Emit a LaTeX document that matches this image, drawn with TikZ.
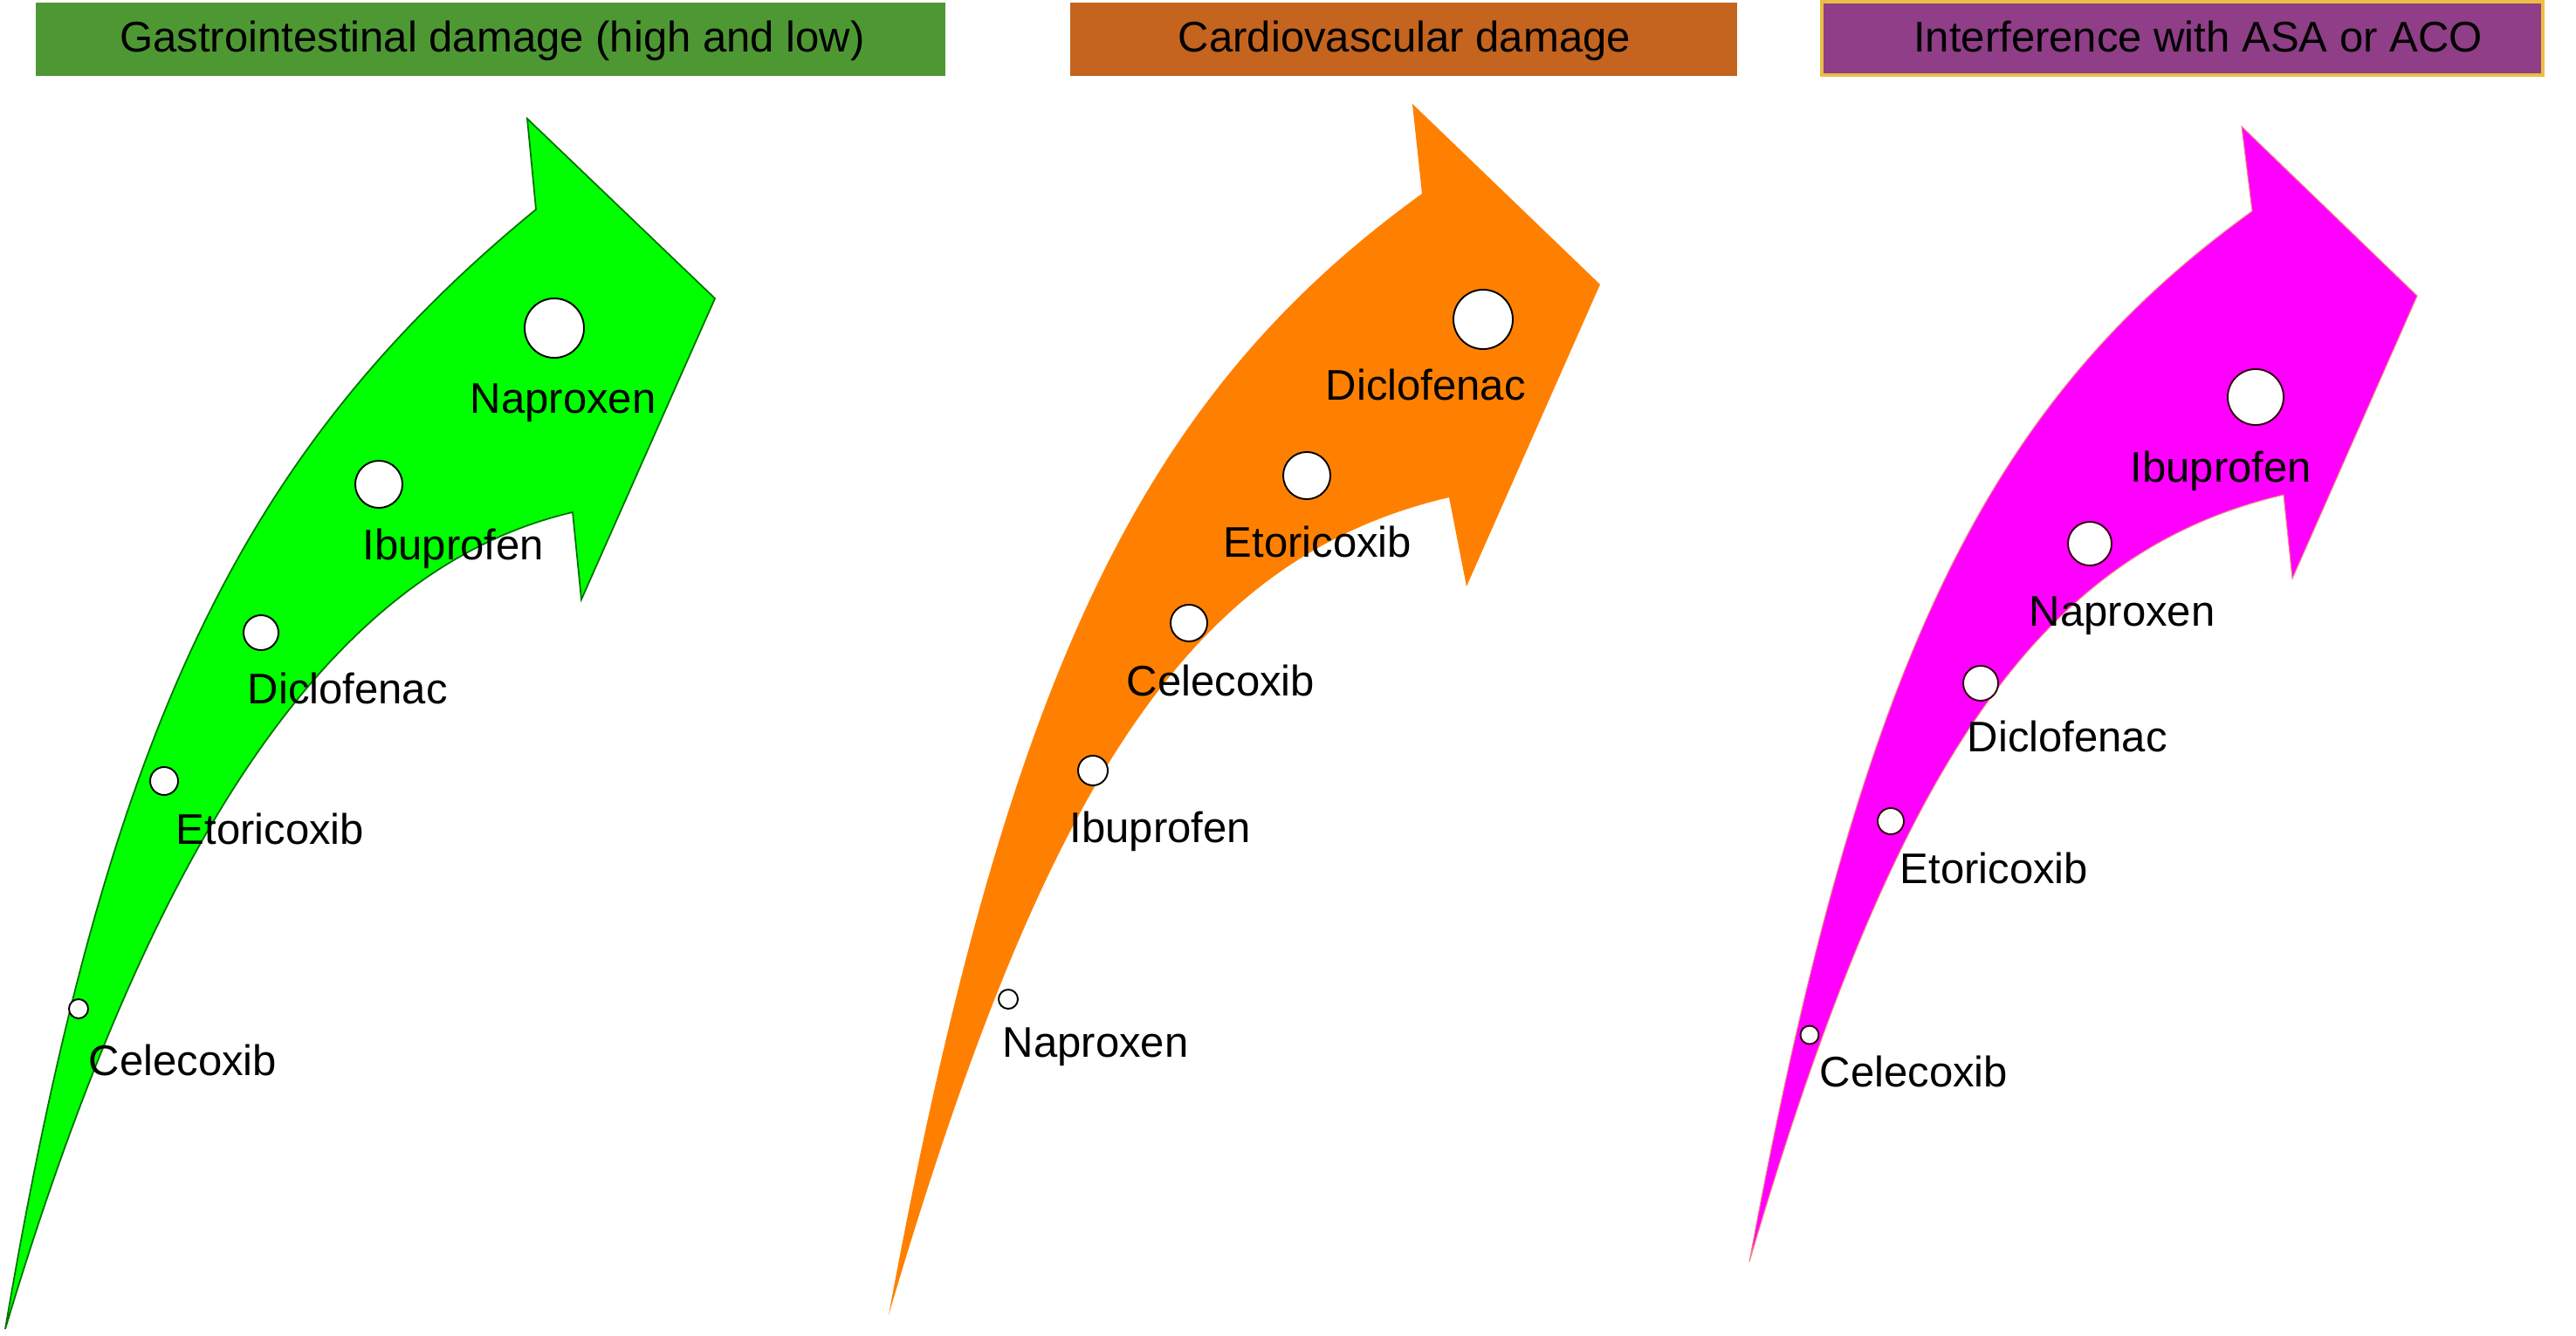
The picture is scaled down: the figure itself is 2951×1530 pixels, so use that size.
\documentclass[tikz,border=0pt]{standalone}
\usepackage{fontspec}
\setmainfont{Liberation Sans}
\newcommand\mytxtfont{\fontsize{13.95pt}{16pt}\selectfont}
\definecolor{hgreen}{HTML}{4E9834}
\definecolor{horange}{HTML}{C4641E}
\definecolor{hpurple}{HTML}{8F3E87}
\definecolor{hgold}{HTML}{EBBE46}
\definecolor{agreen}{HTML}{00FF00}
\definecolor{aorange}{HTML}{FF8000}
\definecolor{amagenta}{HTML}{FF00FF}
\begin{document}
\begin{tikzpicture}[x=0.01cm,y=-0.01cm,
  hdrbox/.style={rectangle, inner sep=0pt, minimum height=0.84cm},
  hdrtext/.style={anchor=base, inner sep=0pt, font=\mytxtfont},
  dot/.style={circle, draw=black, fill=white, line width=0.55pt, inner sep=0pt},
  pdot/.style={dot, draw=black!75!purple},
  lbl/.style={anchor=base west, inner sep=0pt, font=\mytxtfont}]
\useasboundingbox (0,0) rectangle (2951,1530);

% ---------- headers ----------
\node[hdrbox, fill=hgreen, minimum width=10.42cm] (hb1) at (562,45) {};
\node[hdrtext] (ht1) at (564,60) {Gastrointestinal damage (high and low)};
\node[hdrbox, fill=horange, minimum width=7.63cm, minimum height=0.83cm] (hb2) at (1608,45) {};
\node[hdrtext] (ht2) at (1609,60) {Cardiovascular damage};
\node[hdrbox, fill=hpurple, draw=hgold, line width=1.1pt, minimum width=8.26cm, minimum height=0.84cm] (hb3) at (2500,44) {};
\node[hdrtext] (ht3) at (2518,60) {Interference with ASA or ACO};

% ---------- green arrow ----------
\filldraw[fill=agreen, draw=black!55!green, line width=0.5pt]
  (6,1523) .. controls (122,840) and (274,519) .. (614,240)
  -- (604,136) -- (819,342) -- (666,687) -- (656,587)
  .. controls (386,650) and (178,949) .. (6,1523) -- cycle;

% ---------- orange arrow ----------
\fill[aorange]
  (1018,1507) .. controls (1153,776) and (1306,455) .. (1629,222)
  -- (1618,119) -- (1833,326) -- (1680,672) -- (1660,570)
  .. controls (1360,640) and (1195,905) .. (1018,1507) -- cycle;

% ---------- magenta arrow ----------
\filldraw[fill=amagenta, draw=hgold!70!amagenta, line width=0.3pt]
  (2004,1446) .. controls (2131,759) and (2276,461) .. (2580,242)
  -- (2568,145) -- (2769,339) -- (2626,663) -- (2616,567)
  .. controls (2334,633) and (2170,880) .. (2004,1446) -- cycle;

% ---------- green panel dots and labels ----------
\node[dot, minimum size=0.68cm] (g1) at (635,376) {};
\node[dot, minimum size=0.54cm] (g2) at (434,555) {};
\node[dot, minimum size=0.40cm] (g3) at (299,725) {};
\node[dot, minimum size=0.32cm] (g4) at (188,895) {};
\node[dot, minimum size=0.22cm] (g5) at (90,1156) {};
\node[lbl] (gl1) at (538,473) {Naproxen};
\node[lbl] (gl2) at (415,641) {Ibuprofen};
\node[lbl] (gl3) at (283,806) {Diclofenac};
\node[lbl] (gl4) at (201,967) {Etoricoxib};
\node[lbl] (gl5) at (101,1232) {Celecoxib};

% ---------- orange panel dots and labels ----------
\node[dot, minimum size=0.68cm] (o1) at (1699,366) {};
\node[dot, minimum size=0.54cm] (o2) at (1497,545) {};
\node[dot, minimum size=0.42cm] (o3) at (1362,714) {};
\node[dot, minimum size=0.34cm] (o4) at (1252,883) {};
\node[dot, minimum size=0.22cm] (o5) at (1155,1145) {};
\node[lbl] (ol1) at (1518,458) {Diclofenac};
\node[lbl] (ol2) at (1401,638) {Etoricoxib};
\node[lbl] (ol3) at (1290,797) {Celecoxib};
\node[lbl] (ol4) at (1225,965) {Ibuprofen};
\node[lbl] (ol5) at (1148,1211) {Naproxen};

% ---------- magenta panel dots and labels ----------
\node[pdot, minimum size=0.64cm] (p1) at (2584,455) {};
\node[pdot, minimum size=0.50cm] (p2) at (2394,623) {};
\node[pdot, minimum size=0.40cm] (p3) at (2269,783) {};
\node[pdot, minimum size=0.30cm] (p4) at (2166,941) {};
\node[pdot, minimum size=0.21cm] (p5) at (2073,1186) {};
\node[lbl] (pl1) at (2440,552) {Ibuprofen};
\node[lbl] (pl2) at (2324,717) {Naproxen};
\node[lbl] (pl3) at (2253,861) {Diclofenac};
\node[lbl] (pl4) at (2176,1012) {Etoricoxib};
\node[lbl] (pl5) at (2084,1245) {Celecoxib};
\end{tikzpicture}
\end{document}
